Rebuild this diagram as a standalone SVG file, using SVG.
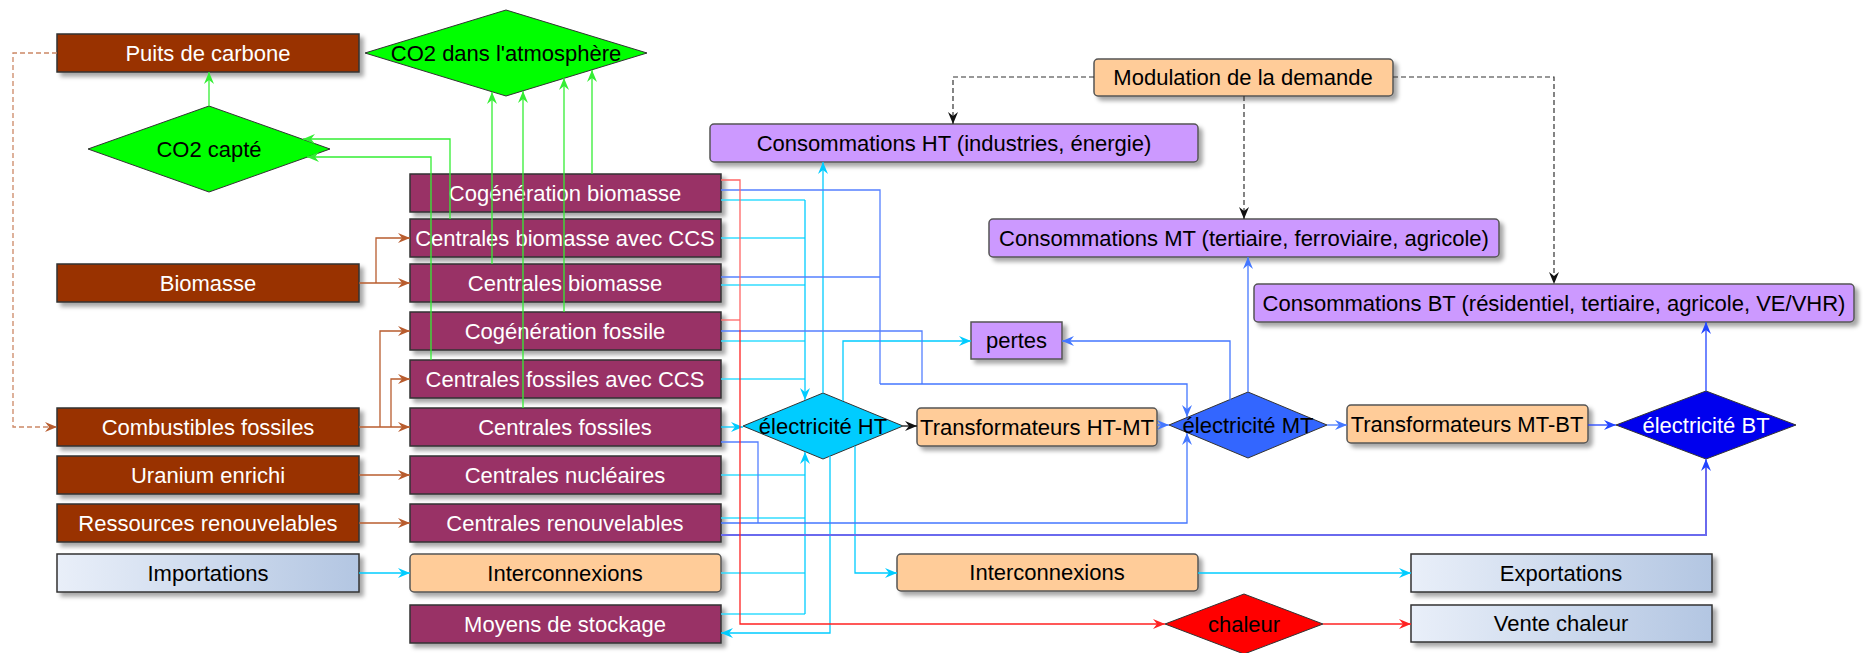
<svg xmlns="http://www.w3.org/2000/svg" width="1863" height="653" viewBox="0 0 1863 653">
<defs>
<filter id="sh" x="-10%" y="-20%" width="130%" height="160%"><feDropShadow dx="4" dy="4" stdDeviation="2" flood-color="#000" flood-opacity="0.35"/></filter>
<linearGradient id="gr" x1="0" y1="0" x2="1" y2="0"><stop offset="0" stop-color="#e9eff9"/><stop offset="1" stop-color="#b3c6e2"/></linearGradient>
<marker id="aG" markerUnits="userSpaceOnUse" markerWidth="12" markerHeight="10" refX="12" refY="5" orient="auto"><path d="M0,0 L12,5 L0,10 L4,5 z" fill="#33ee33"/></marker>
<marker id="aBr" markerUnits="userSpaceOnUse" markerWidth="12" markerHeight="10" refX="12" refY="5" orient="auto"><path d="M0,0 L12,5 L0,10 L4,5 z" fill="#b85c2e"/></marker>
<marker id="aC" markerUnits="userSpaceOnUse" markerWidth="12" markerHeight="10" refX="12" refY="5" orient="auto"><path d="M0,0 L12,5 L0,10 L4,5 z" fill="#00ccff"/></marker>
<marker id="aB" markerUnits="userSpaceOnUse" markerWidth="12" markerHeight="10" refX="12" refY="5" orient="auto"><path d="M0,0 L12,5 L0,10 L4,5 z" fill="#4477ff"/></marker>
<marker id="aDB" markerUnits="userSpaceOnUse" markerWidth="12" markerHeight="10" refX="12" refY="5" orient="auto"><path d="M0,0 L12,5 L0,10 L4,5 z" fill="#2244ff"/></marker>
<marker id="aR" markerUnits="userSpaceOnUse" markerWidth="12" markerHeight="10" refX="12" refY="5" orient="auto"><path d="M0,0 L12,5 L0,10 L4,5 z" fill="#ff2222"/></marker>
<marker id="aK" markerUnits="userSpaceOnUse" markerWidth="12" markerHeight="10" refX="12" refY="5" orient="auto"><path d="M0,0 L12,5 L0,10 L4,5 z" fill="#111"/></marker>
</defs>
<style>
text{font-family:"Liberation Sans",Arial,sans-serif;font-size:22px;text-anchor:middle;dominant-baseline:central}
.w{fill:#fff}
.k{fill:#000}
.src{fill:#993300;stroke:#333;stroke-width:1.5;filter:url(#sh)}
.pl{fill:#993366;stroke:#333;stroke-width:1.5;filter:url(#sh)}
.or{fill:#ffcc99;stroke:#555;stroke-width:1.5;filter:url(#sh)}
.pu{fill:#cc99ff;stroke:#555;stroke-width:1.5;filter:url(#sh)}
.gd{fill:url(#gr);stroke:#333;stroke-width:1.5;filter:url(#sh)}
.dm{stroke:#333;stroke-width:1}
.c{fill:none}
.g{stroke:#33ee33;stroke-width:1.3;marker-end:url(#aG)}
.br{stroke:#b85c2e;stroke-width:1.3;marker-end:url(#aBr)}
.brd{stroke:#cc8866;stroke-width:1.3;stroke-dasharray:5,3;marker-end:url(#aBr)}
.cy{stroke:#00ccff;stroke-width:1.3;marker-end:url(#aC)}
.cy0{stroke:#33ddff;stroke-width:1.5}
.bl{stroke:#4477ff;stroke-width:1.3;marker-end:url(#aB)}
.bl0{stroke:#5580ff;stroke-width:1.3}
.bt{stroke:#6a6aee;stroke-width:2;marker-end:url(#aDB)}
.dbl{stroke:#2244ff;stroke-width:1.3;marker-end:url(#aDB)}
.rd{stroke:#ff2222;stroke-width:1.3;marker-end:url(#aR)}
.rd0{stroke:#ff6666;stroke-width:1.3}
.kk{stroke:#111;stroke-width:1.3;marker-end:url(#aK)}
.kd{stroke:#333;stroke-width:1.2;stroke-dasharray:5,3;marker-end:url(#aK)}
</style>

<g id="n-puits"><rect class="src" x="57" y="34" width="302" height="38"/><text class="w" x="208" y="53">Puits de carbone</text></g>
<g id="n-biomasse"><rect class="src" x="57" y="264" width="302" height="38"/><text class="w" x="208" y="283">Biomasse</text></g>
<g id="n-combustibles"><rect class="src" x="57" y="408" width="302" height="38"/><text class="w" x="208" y="427">Combustibles fossiles</text></g>
<g id="n-uranium"><rect class="src" x="57" y="456" width="302" height="38"/><text class="w" x="208" y="475">Uranium enrichi</text></g>
<g id="n-ressources"><rect class="src" x="57" y="504" width="302" height="38"/><text class="w" x="208" y="523">Ressources renouvelables</text></g>
<g id="n-importations"><rect class="gd" x="57" y="554" width="302" height="38"/><text class="k" x="208" y="573">Importations</text></g>

<g id="n-cogen-bio"><rect class="pl" x="410" y="174" width="311" height="38"/><text class="w" x="565" y="193">Cogénération biomasse</text></g>
<g id="n-bio-ccs"><rect class="pl" x="410" y="219" width="311" height="38"/><text class="w" x="565" y="238">Centrales biomasse avec CCS</text></g>
<g id="n-bio"><rect class="pl" x="410" y="264" width="311" height="38"/><text class="w" x="565" y="283">Centrales biomasse</text></g>
<g id="n-cogen-fos"><rect class="pl" x="410" y="312" width="311" height="38"/><text class="w" x="565" y="331">Cogénération fossile</text></g>
<g id="n-fos-ccs"><rect class="pl" x="410" y="360" width="311" height="38"/><text class="w" x="565" y="379">Centrales fossiles avec CCS</text></g>
<g id="n-fos"><rect class="pl" x="410" y="408" width="311" height="38"/><text class="w" x="565" y="427">Centrales fossiles</text></g>
<g id="n-nuc"><rect class="pl" x="410" y="456" width="311" height="38"/><text class="w" x="565" y="475">Centrales nucléaires</text></g>
<g id="n-renouv"><rect class="pl" x="410" y="504" width="311" height="38"/><text class="w" x="565" y="523">Centrales renouvelables</text></g>
<g id="n-interco-in"><rect class="or" x="410" y="554" width="311" height="38" rx="4"/><text class="k" x="565" y="573">Interconnexions</text></g>
<g id="n-stockage"><rect class="pl" x="410" y="605" width="311" height="38"/><text class="w" x="565" y="624">Moyens de stockage</text></g>

<g id="n-co2atm"><polygon class="dm" fill="#00ff00" points="365,53 506,10 647,53 506,96"/><text class="k" x="506" y="53">CO2 dans l'atmosphère</text></g>
<g id="n-co2capte"><polygon class="dm" fill="#00ff00" points="88,149 209,106 330,149 209,192"/><text class="k" x="209" y="149">CO2 capté</text></g>

<g id="n-elec-ht"><polygon class="dm" fill="#00ccff" points="743,426 823,393 903,426 823,459"/><text class="k" x="823" y="426">électricité HT</text></g>
<g id="n-trans-htmt"><rect class="or" x="917" y="408" width="240" height="38" rx="4"/><text class="k" x="1037" y="427">Transformateurs HT-MT</text></g>
<g id="n-elec-mt"><polygon class="dm" fill="#3366ff" points="1169,425 1248,392 1327,425 1248,458"/><text class="k" x="1248" y="425">électricité MT</text></g>
<g id="n-trans-mtbt"><rect class="or" x="1347" y="405" width="241" height="38" rx="4"/><text class="k" x="1467" y="424">Transformateurs MT-BT</text></g>
<g id="n-elec-bt"><polygon class="dm" fill="#0000ee" points="1616,425 1706,391 1796,425 1706,459"/><text class="w" x="1706" y="425">électricité BT</text></g>

<g id="n-modulation"><rect class="or" x="1094" y="59" width="299" height="37" rx="4"/><text class="k" x="1243" y="77.5">Modulation de la demande</text></g>
<g id="n-conso-ht"><rect class="pu" x="710" y="124" width="488" height="38" rx="4"/><text class="k" x="954" y="143">Consommations HT (industries, énergie)</text></g>
<g id="n-conso-mt"><rect class="pu" x="989" y="219" width="510" height="38" rx="4"/><text class="k" x="1244" y="238">Consommations MT (tertiaire, ferroviaire, agricole)</text></g>
<g id="n-conso-bt"><rect class="pu" x="1254" y="284" width="600" height="38" rx="4"/><text class="k" x="1554" y="303">Consommations BT (résidentiel, tertiaire, agricole, VE/VHR)</text></g>
<g id="n-pertes"><rect class="pu" x="971" y="322" width="91" height="37"/><text class="k" x="1016.5" y="340.5">pertes</text></g>

<g id="n-interco-out"><rect class="or" x="897" y="554" width="301" height="37" rx="4"/><text class="k" x="1047" y="572.5">Interconnexions</text></g>
<g id="n-exportations"><rect class="gd" x="1411" y="554" width="301" height="38"/><text class="k" x="1561" y="573">Exportations</text></g>
<g id="n-chaleur"><polygon class="dm" fill="#ff0000" points="1165,624 1244,594 1323,624 1244,654"/><text class="k" x="1244" y="624">chaleur</text></g>
<g id="n-vente"><rect class="gd" x="1411" y="605" width="301" height="37"/><text class="k" x="1561" y="623.5">Vente chaleur</text></g>

<g id="connectors" class="c">
<path class="g" d="M209,106 V72"/>
<path class="g" d="M450,219 V139 H303"/>
<path class="g" d="M431,360 V157 H307"/>
<path class="g" d="M492,264 V92"/>
<path class="g" d="M523,408 V91"/>
<path class="g" d="M564,312 V78"/>
<path class="g" d="M592,174 V70"/>
<path class="brd" d="M57,53 H13 V427 H57"/>
<path class="br" d="M359,283 H410"/>
<path class="br" d="M376,283 V238 H410"/>
<path class="br" d="M359,427 H410"/>
<path class="br" d="M380,427 V331 H410"/>
<path class="br" d="M391,427 V379 H410"/>
<path class="br" d="M359,475 H410"/>
<path class="br" d="M359,523 H410"/>
<path class="cy" d="M359,573 H410"/>
<path class="cy0" d="M721,200 H805"/>
<path class="cy0" d="M721,238 H805"/>
<path class="cy0" d="M721,285 H805"/>
<path class="cy0" d="M721,341 H805"/>
<path class="cy0" d="M721,379 H805"/>
<path class="cy" d="M805,200 V400"/>
<path class="cy" d="M721,427 H743"/>
<path class="cy0" d="M721,475 H805"/>
<path class="cy0" d="M721,518 H805"/>
<path class="cy0" d="M721,573 H805"/>
<path class="cy0" d="M721,614 H805"/>
<path class="cy" d="M805,614 V452"/>
<path class="cy" d="M830,456 V633 H721"/>
<path class="cy" d="M823,393 V162"/>
<path class="cy" d="M843,401 V341 H971"/>
<path class="cy" d="M855,446 V573 H897"/>
<path class="cy" d="M1198,573 H1411"/>
<path class="bl0" d="M721,190 H880 V384"/>
<path class="bl0" d="M721,277 H880"/>
<path class="bl0" d="M721,331 H922 V384"/>
<path class="bl" d="M880,384 H1187 V417"/>
<path class="bl0" d="M721,442 H758 V523"/>
<path class="bl" d="M721,523 H1187 V433"/>
<path class="bl" d="M1157,425 H1169"/>
<path class="bl" d="M1230,400 V341 H1062"/>
<path class="bl" d="M1248,392 V257"/>
<path class="bl" d="M1327,425 H1347"/>
<path class="dbl" d="M1588,425 H1616"/>
<path class="dbl" d="M1706,391 V322"/>
<path class="bt" d="M721,535 H1706 V459"/>
<path class="kk" d="M903,426 H917"/>
<path class="kd" d="M1094,77 H953 V124"/>
<path class="kd" d="M1244,96 V219"/>
<path class="kd" d="M1393,77 H1554 V284"/>
<path class="rd0" d="M721,180 H740 V330"/>
<path class="rd0" d="M721,320 H740"/>
<path class="rd" d="M740,330 V624 H1165"/>
<path class="rd" d="M1323,624 H1411"/>
</g>
</svg>
